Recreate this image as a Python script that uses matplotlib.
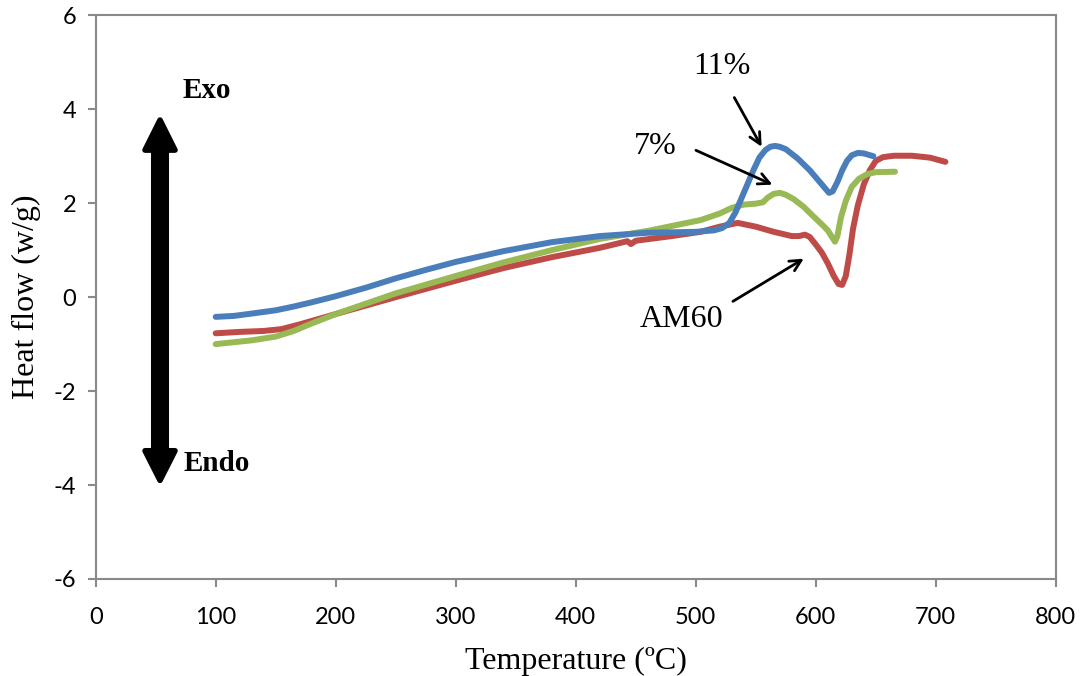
import matplotlib
matplotlib.use("Agg")
import matplotlib.pyplot as plt
from matplotlib.patches import Polygon

plt.rcParams['axes.unicode_minus'] = False

# данные: температура и тепловой поток для трёх образцов
t_11 = [100, 115, 130, 150, 165, 180, 200, 225, 250, 275, 300, 340, 380, 420, 460, 500, 515, 522,
        528, 533, 538, 543, 548, 553, 558, 562, 566, 570, 575, 585, 595, 605, 611, 614, 618, 622,
        626, 630, 635, 640, 648]
hf_11 = [-0.42, -0.4, -0.35, -0.28, -0.2, -0.11, 0.02, 0.2, 0.4, 0.58, 0.75, 0.98, 1.17, 1.3,
         1.37, 1.39, 1.42, 1.47, 1.58, 1.8, 2.1, 2.4, 2.7, 2.97, 3.13, 3.2, 3.22, 3.2, 3.15, 2.95,
         2.7, 2.4, 2.22, 2.25, 2.45, 2.7, 2.9, 3.02, 3.07, 3.06, 3.0]

t_7 = [100, 130, 150, 165, 180, 200, 250, 300, 340, 380, 420, 462, 504, 520, 530, 540, 550, 556,
       560, 565, 570, 575, 582, 590, 598, 605, 610, 613, 616, 618, 621, 625, 630, 636, 643, 650,
       666]
hf_7 = [-1.0, -0.92, -0.84, -0.72, -0.56, -0.36, 0.08, 0.45, 0.74, 1.0, 1.24, 1.42, 1.64, 1.78,
        1.9, 1.97, 1.99, 2.02, 2.12, 2.2, 2.22, 2.18, 2.08, 1.92, 1.72, 1.55, 1.42, 1.3, 1.18,
        1.3, 1.7, 2.05, 2.35, 2.52, 2.62, 2.66, 2.67]

t_am60 = [100, 120, 140, 155, 170, 185, 200, 250, 300, 340, 380, 420, 443, 446, 450, 480, 504, 520,
          535, 550, 565, 580, 586, 591, 595, 600, 605, 610, 615, 619, 622, 625, 628, 631, 635,
          640, 645, 650, 656, 665, 680, 695, 708]
hf_am60 = [-0.77, -0.74, -0.72, -0.68, -0.58, -0.47, -0.36, 0.0, 0.35, 0.62, 0.85, 1.05, 1.19,
           1.13, 1.2, 1.3, 1.39, 1.5, 1.58, 1.5, 1.39, 1.3, 1.3, 1.33, 1.28, 1.12, 0.95, 0.72,
           0.45, 0.28, 0.26, 0.45, 0.9, 1.45, 1.95, 2.4, 2.7, 2.9, 2.98, 3.01, 3.01, 2.97, 2.88]

x_ticks = [0, 100, 200, 300, 400, 500, 600, 700, 800]
y_ticks = [-6, -4, -2, 0, 2, 4, 6]

serif = "Liberation Serif"
sans = "Lato"

fig = plt.figure(figsize=(10.8, 6.76), dpi=100)
ax = fig.add_axes([0.0886, 0.1435, 0.889, 0.8339])

lw = 4.3
ax.plot(t_am60, hf_am60, color="#BE4B48", lw=lw, solid_capstyle="round", solid_joinstyle="round")
ax.plot(t_7, hf_7, color="#98B954", lw=lw, solid_capstyle="round", solid_joinstyle="round")
ax.plot(t_11, hf_11, color="#4A7EBB", lw=lw, solid_capstyle="round", solid_joinstyle="round")

ax.set_xlim(0, 800)
ax.set_ylim(-6, 6)
ax.set_xticks(x_ticks)
ax.set_yticks(y_ticks)
for s in ax.spines.values():
    s.set_color("#898989")
    s.set_linewidth(1.5)
ax.tick_params(colors="#898989", width=1.5, length=6, direction="out", labelcolor="black",
               labelsize=17)
ax.tick_params(axis="x", pad=14)
ax.tick_params(axis="y", pad=8)
for lab in ax.get_xticklabels() + ax.get_yticklabels():
    lab.set_family(sans)

ax.set_xlabel("Temperature (ºC)", family=serif, fontsize=23, labelpad=14)
ax.set_ylabel("Heat flow (w/g)", family=serif, fontsize=23, labelpad=9)

# стрелка Exo / Endo: стержень + два наконечника
ax.plot([53.6, 53.6], [3.2, -3.33], color="black", lw=13, solid_capstyle="butt")
ax.add_patch(Polygon([[53.6, 3.77], [41.1, 3.13], [66.1, 3.13]], closed=True, color="black",
                     lw=4, joinstyle="round"))
ax.add_patch(Polygon([[53.6, -3.90], [41.1, -3.27], [66.1, -3.27]], closed=True, color="black",
                     lw=4, joinstyle="round"))
ax.text(72, 4.4, "Exo", family=serif, fontsize=21, fontweight="bold", va="center", ha="left")
ax.text(73, -3.55, "Endo", family=serif, fontsize=21, fontweight="bold", va="center", ha="left")

# подписи кривых
ap = dict(arrowstyle="->,head_length=0.8,head_width=0.4", lw=2, color="black")
ax.text(522, 4.92, "11%", family=serif, fontsize=23, ha="center", va="center")
ax.annotate("", xy=(556, 3.15), xytext=(531, 4.3), arrowprops=ap)
ax.text(466, 3.2, "7%", family=serif, fontsize=23, ha="center", va="center")
ax.annotate("", xy=(566, 2.37), xytext=(498, 3.15), arrowprops=ap)
ax.text(488, -0.47, "AM60", family=serif, fontsize=23, ha="center", va="center")
ax.annotate("", xy=(592, 0.85), xytext=(529, -0.12), arrowprops=ap)

fig.savefig("out.png", dpi=100)
